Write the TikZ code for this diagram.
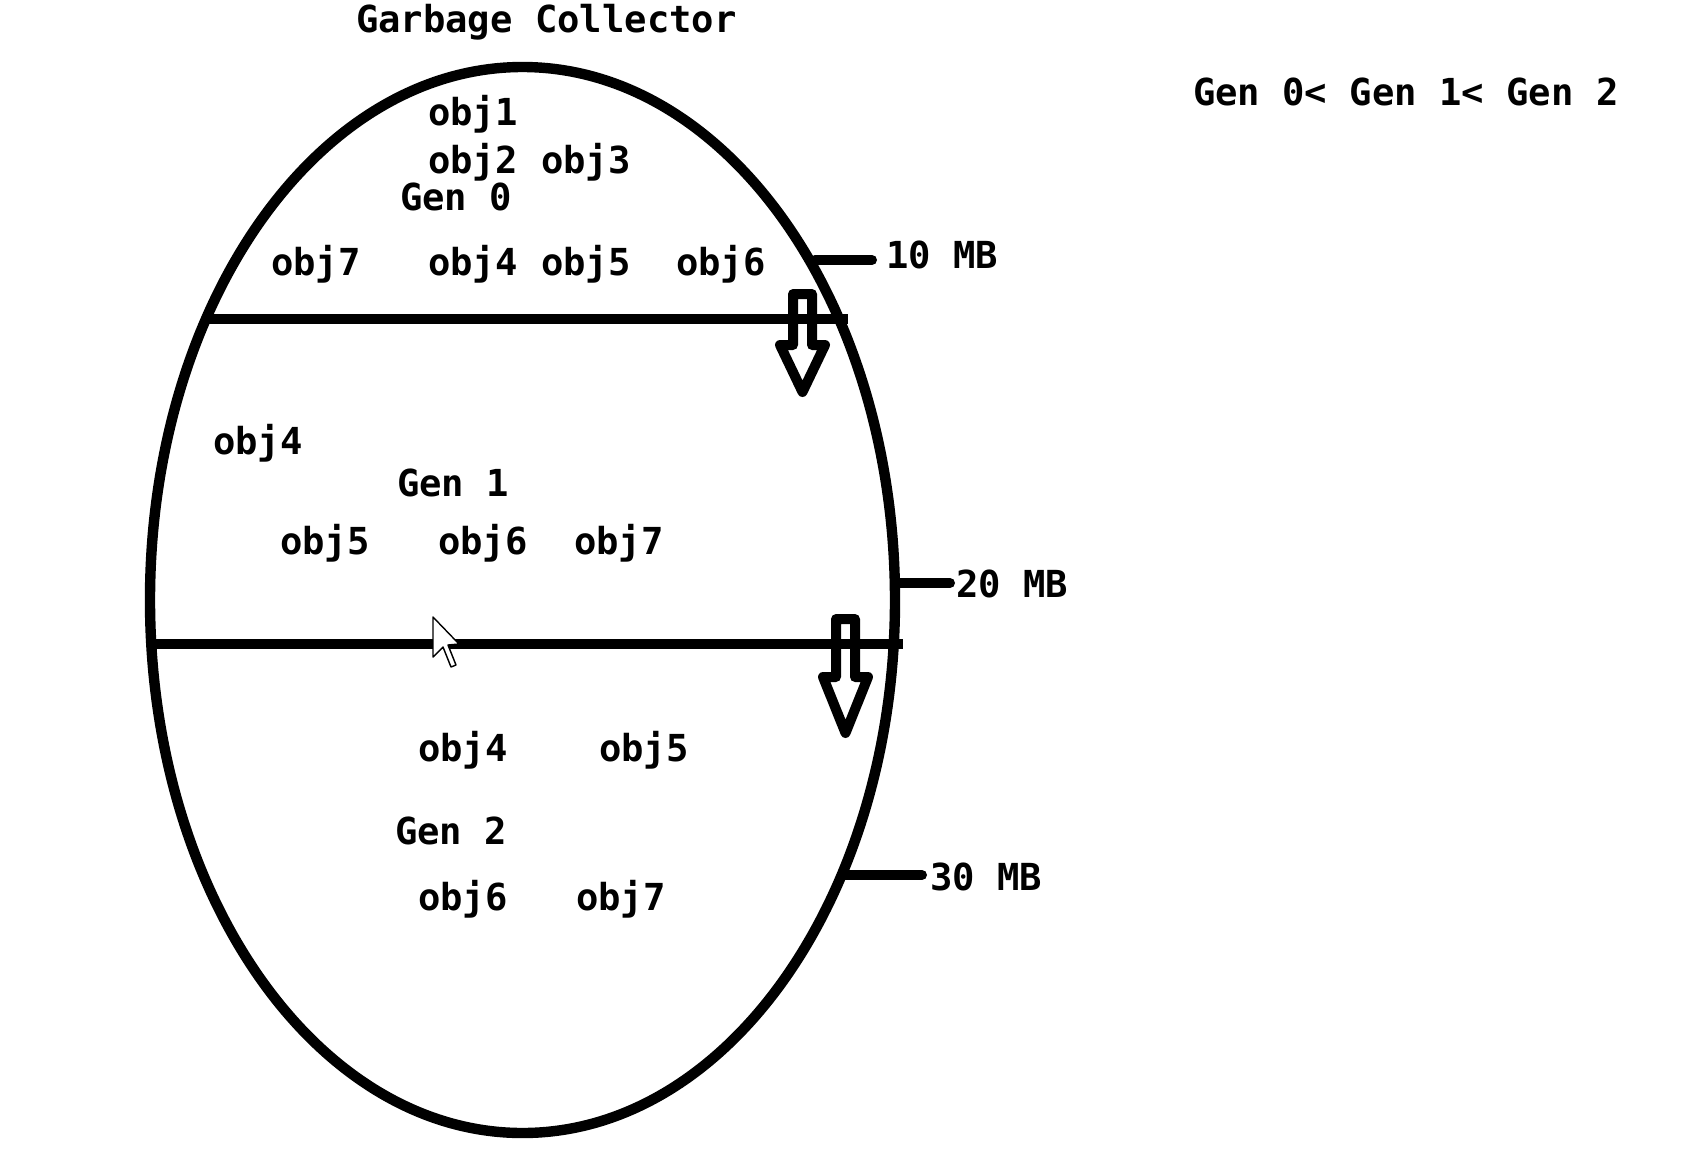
\documentclass[tikz,border=0pt]{standalone}
\usepackage{fontspec}
\setmainfont{DejaVu Sans Mono}
\usetikzlibrary{shapes.geometric}
\begin{document}
\begin{tikzpicture}[x=0.5pt,y=-0.5pt,
  txt/.style={font=\fontsize{18.6pt}{22pt}\selectfont\bfseries, inner sep=0pt, outer sep=0pt, anchor=base west},
  bar/.style={line width=5.2pt},
  tickline/.style={line width=5pt, line cap=round},
  downarrow/.style={line width=5pt, line join=round, fill=white}]
\useasboundingbox[fill=white] (0,0) rectangle (1683,1164);

% the heap
\node[draw, ellipse, line width=5.2pt, minimum width=372.5pt, minimum height=533pt,
      inner sep=0pt, outer sep=0pt] (egg) at (522.5,600) {};

% title and legend
\node[txt] (title) at (356,32) {Garbage Collector};
\node[txt] (order) at (1193,105) {Gen 0< Gen 1< Gen 2};

% generation dividers
\coordinate (d1l) at (207,319); \coordinate (d1r) at (848,319);
\coordinate (d2l) at (152,644); \coordinate (d2r) at (903,644);
\draw[bar] (d1l) -- (d1r);
\draw[bar] (d2l) -- (d2r);

% Gen 0
\node[txt] (g0o1) at (428,125) {obj1};
\node[txt] (g0o2) at (428,173) {obj2};
\node[txt] (g0o3) at (541,173) {obj3};
\node[txt] (gen0) at (400,210) {Gen 0};
\node[txt] (g0o7) at (271,275) {obj7};
\node[txt] (g0o4) at (428,275) {obj4};
\node[txt] (g0o5) at (541,275) {obj5};
\node[txt] (g0o6) at (676,275) {obj6};

% Gen 1
\node[txt] (g1o4) at (213,454) {obj4};
\node[txt] (gen1) at (397,496) {Gen 1};
\node[txt] (g1o5) at (280,554) {obj5};
\node[txt] (g1o6) at (438,554) {obj6};
\node[txt] (g1o7) at (574,554) {obj7};

% Gen 2
\node[txt] (g2o4) at (418,761) {obj4};
\node[txt] (g2o5) at (599,761) {obj5};
\node[txt] (gen2) at (395,844) {Gen 2};
\node[txt] (g2o6) at (418,910) {obj6};
\node[txt] (g2o7) at (576,910) {obj7};

% size marks
\node[txt] (mb10) at (886,268) {10 MB};
\node[txt] (mb20) at (956,597) {20 MB};
\node[txt] (mb30) at (930,890) {30 MB};
\coordinate (t10) at (815,260);
\coordinate (t20) at (898,583);
\coordinate (t30) at (843,875);
\draw[tickline] (t10) -- ([xshift=-7pt]mb10.west |- t10);
\draw[tickline] (t20) -- ([xshift=-3pt]mb20.west |- t20);
\draw[tickline] (t30) -- ([xshift=-4pt]mb30.west |- t30);

% promotion arrows
\draw[downarrow] (793,294) -- (812,294) -- (812,345) -- (825,345) -- (802.5,392)
   -- (780,345) -- (793,345) -- cycle;
\draw[bar] (793,319) -- (812,319);
\draw[downarrow] (836,619) -- (855,619) -- (855,677) -- (868,677) -- (845.5,733)
   -- (823,677) -- (836,677) -- cycle;
\draw[bar] (836,644) -- (855,644);

% mouse pointer
\coordinate (cur) at (433,617);
\draw[fill=white, line width=0.7pt, line join=round] (cur) -- ++(0,40) -- ++(10,-10)
   -- ++(8,20) -- ++(5,-2) -- ++(-8,-20) -- ++(11,-1) -- cycle;
\end{tikzpicture}
\end{document}
